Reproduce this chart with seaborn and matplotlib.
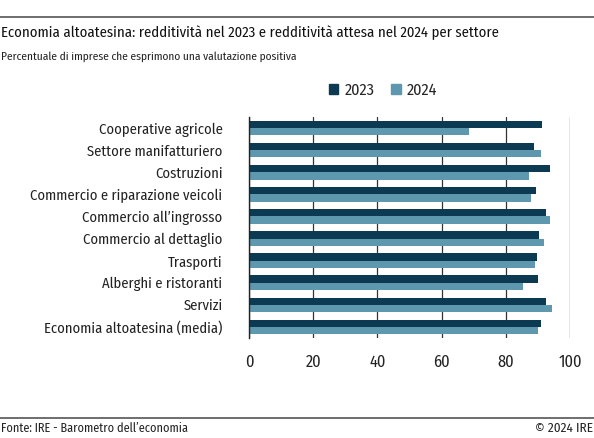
import matplotlib
matplotlib.use("Agg")
import matplotlib.pyplot as plt
import seaborn as sns
import pandas as pd
from matplotlib.patches import Patch

categories = ["Cooperative agricole", "Settore manifatturiero", "Costruzioni",
              "Commercio e riparazione veicoli", "Commercio all’ingrosso",
              "Commercio al dettaglio", "Trasporti", "Alberghi e ristoranti",
              "Servizi", "Economia altoatesina (media)"]
values_2023 = [91.2, 88.9, 93.7, 89.5, 92.6, 90.4, 89.8, 90.1, 92.5, 91.1]
values_2024 = [68.5, 91.0, 87.1, 87.9, 93.9, 91.8, 89.1, 85.3, 94.4, 90.0]
years = ["2023", "2024"]
xticks = [0, 20, 40, 60, 80, 100]

df = pd.DataFrame({
    "Settore": categories * 2,
    "Valore": values_2023 + values_2024,
    "Anno": [years[0]] * len(categories) + [years[1]] * len(categories),
})

sns.set_style("white")
plt.rcParams["font.family"] = ["Fira Sans Condensed", "PT Sans Narrow", "DejaVu Sans"]

colors = {"2023": "#0b3a52", "2024": "#5d98ae"}
fig = plt.figure(figsize=(5.94, 4.38), dpi=100)
ax = fig.add_axes([249/594, 1-338/438, 321/594, 221/438])
sns.barplot(data=df, x="Valore", y="Settore", hue="Anno", palette=colors,
            orient="h", width=0.66, ax=ax, legend=False, saturation=1, linewidth=0)
ax.set_xlim(0, 100)
ax.set_ylim(9.5, -0.5)
ax.set_xticks(xticks)
ax.set_xticklabels([str(t) for t in xticks])
ax.set_xlabel("")
ax.set_ylabel("")
for s in ["top", "right", "bottom"]:
    ax.spines[s].set_visible(False)
ax.spines["left"].set_color("#222222")
ax.spines["left"].set_linewidth(1.0)
ax.xaxis.grid(True, color="#333333", linewidth=0.9)
ax.set_axisbelow(True)
ax.tick_params(axis="x", length=0, pad=12, labelsize=11.8, colors="#222222")
ax.tick_params(axis="y", length=0, pad=19, labelsize=10.5, colors="#222222")

fig.add_artist(plt.Line2D([0, 1], [1-17/438, 1-17/438], color="#555555", lw=1.2))
fig.add_artist(plt.Line2D([0, 1], [1-418/438, 1-418/438], color="#555555", lw=1.2))
fig.text(0.002, 1-33/438, "Economia altoatesina: redditività nel 2023 e redditività attesa nel 2024 per settore",
         fontsize=10.6, va="center", ha="left", color="#111111")
fig.text(0.002, 1-57/438, "Percentuale di imprese che esprimono una valutazione positiva",
         fontsize=8.2, va="center", ha="left", color="#222222")
fig.text(0.002, 1-428/438, "Fonte: IRE - Barometro dell’economia", fontsize=8.8, va="center", ha="left", color="#222222")
fig.text(0.998, 1-428/438, "© 2024 IRE", fontsize=9.5, va="center", ha="right", color="#222222")

handles = [Patch(color=colors[y]) for y in years]
fig.legend(handles, years, loc="center", bbox_to_anchor=(383/594, 1-90/438), ncol=2, frameon=False,
           fontsize=11.6, handlelength=0.6, handleheight=0.6, handletextpad=0.4, columnspacing=1.0)
fig.savefig("out.png", dpi=100)
